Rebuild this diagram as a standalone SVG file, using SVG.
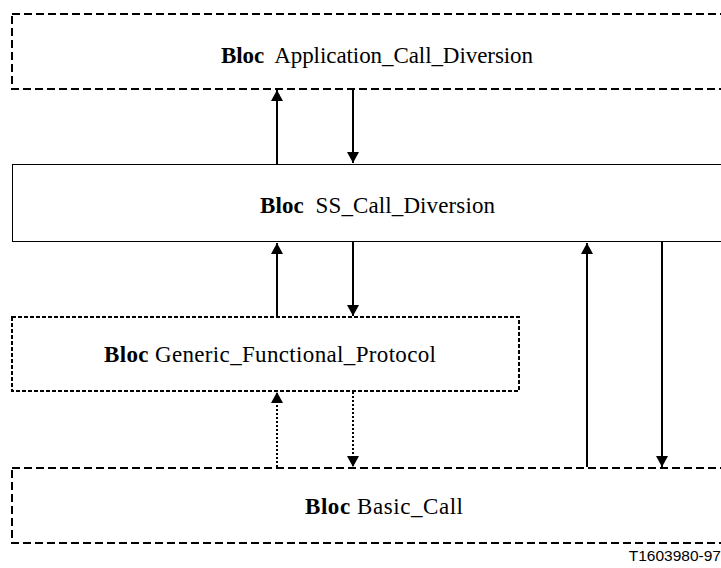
<svg xmlns="http://www.w3.org/2000/svg" width="721" height="568" viewBox="0 0 721 568">
<style>
.bg{fill:#fff}
.dash{fill:none;stroke:#000;stroke-width:2;stroke-dasharray:8 4}
.dashs{fill:none;stroke:#000;stroke-width:2;stroke-dasharray:4 2}
.solid{fill:none;stroke:#000;stroke-width:1}
.ar{stroke:#000;stroke-width:2;fill:none}
.dot{stroke:#000;stroke-width:2;fill:none;stroke-dasharray:2 2}
.lbl{font-family:"Liberation Serif","Times New Roman",serif;font-size:23px;fill:#000}
.b{font-weight:bold}
.tag{font-family:"Liberation Sans",Arial,sans-serif;font-size:15.5px;fill:#000}
</style>
<defs>
<marker id="ah" viewBox="0 0 11 12" refX="11" refY="6" markerWidth="11" markerHeight="12" markerUnits="userSpaceOnUse" orient="auto">
<path d="M0,0 L11,6 L0,12 Z" fill="#000"/>
</marker>
</defs>
<rect class="bg" x="0" y="0" width="721" height="568"/>
<g id="connectors">
<line class="ar" x1="277" y1="164" x2="277" y2="90" marker-end="url(#ah)"/>
<line class="ar" x1="353" y1="89" x2="353" y2="163" marker-end="url(#ah)"/>
<line class="ar" x1="277" y1="316" x2="277" y2="243" marker-end="url(#ah)"/>
<line class="ar" x1="353" y1="242" x2="353" y2="316" marker-end="url(#ah)"/>
<line class="dot" x1="277" y1="467" x2="277" y2="392" marker-end="url(#ah)"/>
<line class="dot" x1="353" y1="392" x2="353" y2="467" marker-end="url(#ah)"/>
<line class="ar" x1="587" y1="467" x2="587" y2="243" marker-end="url(#ah)"/>
<line class="ar" x1="662" y1="242" x2="662" y2="467" marker-end="url(#ah)"/>
</g>
<g id="app">
<rect class="dash" x="12" y="14" width="740" height="75"/>
<text class="lbl" x="377" y="63" text-anchor="middle" textLength="312" xml:space="preserve"><tspan class="b">Bloc</tspan>  Application_Call_Diversion</text>
</g>
<g id="ss">
<rect class="solid" x="12.5" y="164.5" width="740" height="77"/>
<text class="lbl" x="377.5" y="213" text-anchor="middle" textLength="235" xml:space="preserve"><tspan class="b">Bloc</tspan>  SS_Call_Diversion</text>
</g>
<g id="gfp">
<rect class="dashs" x="12" y="317" width="507" height="74"/>
<text class="lbl" x="270" y="362" text-anchor="middle" textLength="332"><tspan class="b">Bloc</tspan> Generic_Functional_Protocol</text>
</g>
<g id="basic">
<rect class="dash" x="12" y="468" width="740" height="75"/>
<text class="lbl" x="384" y="514" text-anchor="middle" textLength="158"><tspan class="b">Bloc</tspan> Basic_Call</text>
</g>
<text class="tag" x="721" y="561" text-anchor="end">T1603980-97</text>
</svg>
